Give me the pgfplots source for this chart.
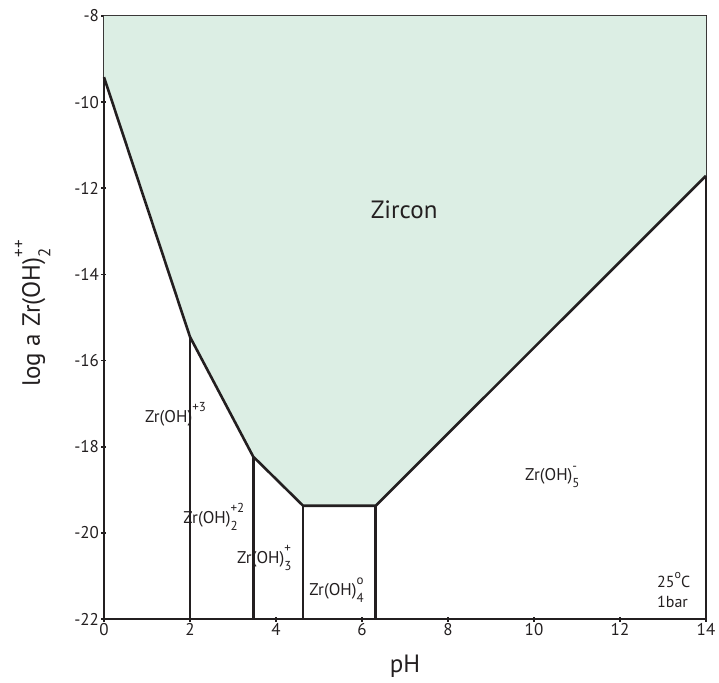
\documentclass[border=0pt]{standalone}
\usepackage{pgfplots}
\pgfplotsset{compat=1.18}
\usepackage{fontspec}
\setmainfont{PT Sans}
\definecolor{zircon}{RGB}{220,238,228}
\definecolor{ink}{RGB}{35,31,32}
% chemical charge (upper) and count (lower) stacked after a formula
\newcommand{\chg}[2]{\rlap{\raisebox{0.62em}{\fontsize{13}{13}\selectfont #1}}\raisebox{-0.42em}{\fontsize{13}{13}\selectfont #2}}
\begin{document}
\begin{tikzpicture}
\begin{axis}[
  name=ax,
  scale only axis,
  width=602pt, height=603pt,
  xmin=0, xmax=14, ymin=-22, ymax=-8,
  xtick={0,2,...,14}, ytick={-22,-20,...,-8},
  axis line style={ink, line width=2.6pt},
  tick style={ink, line width=1.8pt},
  tick align=center,
  major tick length=5pt,
  xtick pos=bottom, ytick pos=left,
  /pgf/number format/assume math mode=true,
  tick label style={font=\fontsize{17}{19}\selectfont, text=ink},
  xticklabel style={yshift=2pt},
  yticklabel style={xshift=1pt},
  xlabel={pH},
  ylabel={log a Zr(OH)\rlap{\raisebox{0.62em}{\fontsize{17}{17}\selectfont ++}}\raisebox{-0.42em}{\fontsize{17}{17}\selectfont 2}},
  label style={font=\fontsize{25}{28}\selectfont, text=ink},
  xlabel style={yshift=-13pt},
  ylabel style={yshift=17pt},
  clip=false,
]
% stability field of zircon
\addplot[fill=zircon, draw=none] coordinates {
  (0,-8) (0,-9.42) (2,-15.45) (3.47,-18.23) (4.63,-19.37)
  (6.32,-19.37) (14,-11.71) (14,-8)} -- cycle;
% boundaries
\addplot[ink, line width=2.6pt, line join=round] coordinates {
  (0,-9.42) (2,-15.45) (3.47,-18.23) (4.63,-19.37) (6.32,-19.37) (14,-11.71)};
\addplot[ink, line width=2.6pt] coordinates {(2,-22) (2,-15.45)};
\addplot[ink, line width=2.6pt] coordinates {(3.47,-22) (3.47,-18.23)};
\addplot[ink, line width=2.6pt] coordinates {(4.63,-22) (4.63,-19.37)};
\addplot[ink, line width=2.6pt] coordinates {(6.32,-22) (6.32,-19.37)};
% field labels
\node[font=\fontsize{25}{28}\selectfont, text=ink] at (axis cs:6.98,-12.5) {Zircon};
\begin{scope}[every node/.style={font=\fontsize{17}{20}\selectfont, text=ink, anchor=west, inner sep=0pt}]
\node at (axis cs:0.95,-17.25) {Zr(OH)\raisebox{0.62em}{\fontsize{13}{13}\selectfont +3}};
\node at (axis cs:1.84,-19.63) {Zr(OH)\chg{+2}{2}};
\node at (axis cs:3.09,-20.58) {Zr(OH)\chg{+}{3}};
\node at (axis cs:4.77,-21.33) {Zr(OH)\chg{o}{4}};
\node at (axis cs:9.79,-18.7) {Zr(OH)\chg{-}{5}};
\end{scope}
\node[font=\fontsize{16}{18}\selectfont, text=ink, anchor=west, inner sep=0pt] at (axis cs:12.86,-21.1) {25\raisebox{0.55em}{\fontsize{12}{12}\selectfont o}C};
\node[font=\fontsize{16}{18}\selectfont, text=ink, anchor=west, inner sep=0pt] at (axis cs:12.86,-21.6) {1bar};
\end{axis}
\path (ax.south west) ++(-104pt,-63pt) (ax.north east) ++(13pt,16pt);
\end{tikzpicture}
\end{document}
